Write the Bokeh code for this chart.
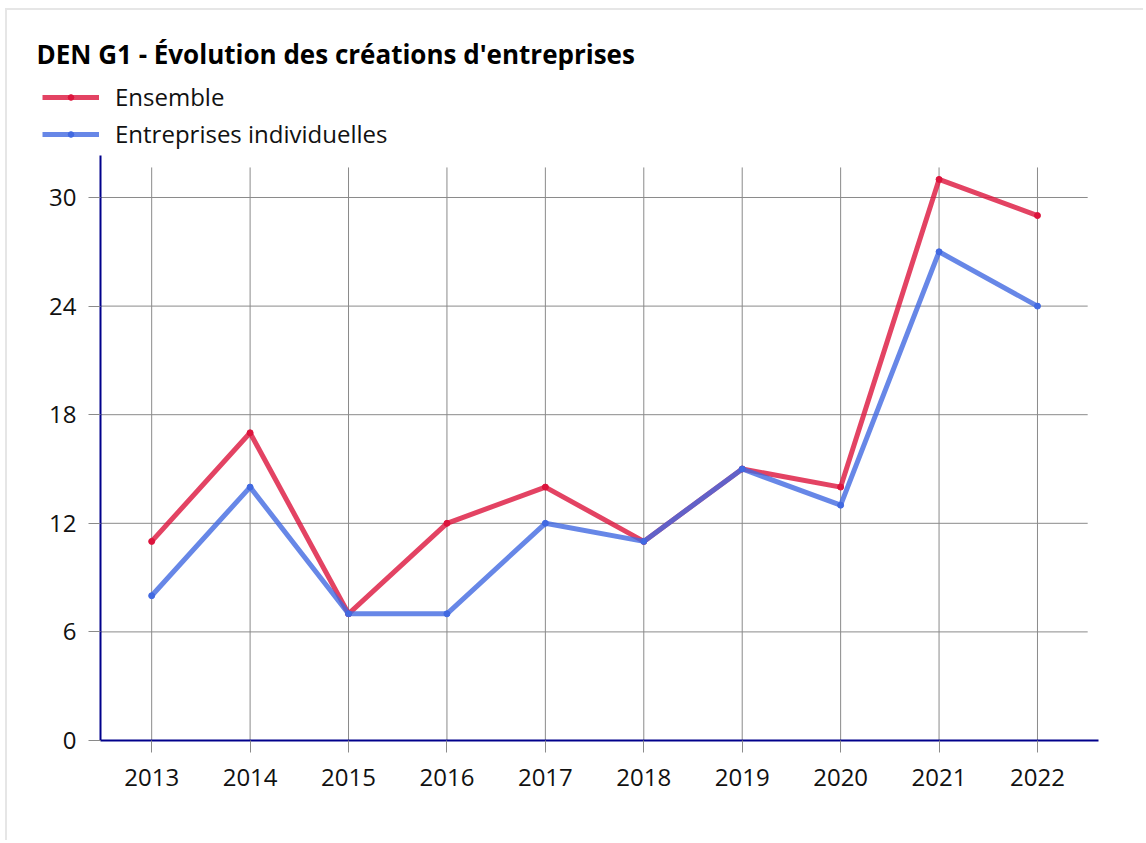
from bokeh.plotting import figure
from bokeh.models import FixedTicker, Legend, LegendItem, ColumnDataSource
from bokeh.layouts import column
from bokeh.embed import file_html
from bokeh.resources import INLINE

years = [2013, 2014, 2015, 2016, 2017, 2018, 2019, 2020, 2021, 2022]
ensemble = [11, 17, 7, 12, 14, 11, 15, 14, 31, 29]
individuelles = [8, 14, 7, 7, 12, 11, 15, 13, 27, 24]
y_ticks = [0, 6, 12, 18, 24, 30]
series_names = ["Ensemble", "Entreprises individuelles"]
title_text = "DEN G1 - Évolution des créations d'entreprises"

FONT = "Open Sans"
RED = "#DC143C"
BLUE = "#4169E1"
GRID = "#8a8a8a"
OX, OY = 7, 10          # content origin on the page (after margin + border)
W = 1136

src = ColumnDataSource(dict(x=years, e=ensemble, i=individuelles))

# ---------- header: title + legend ----------
top = figure(width=W, height=155 - OY, output_backend="svg", toolbar_location=None,
             x_range=(0, 1), y_range=(0, 1),
             x_axis_location=None, y_axis_location=None,
             min_border_left=0, min_border_right=0, min_border_bottom=0, min_border_top=72 - OY)
try:
    top.frame_align = False
except Exception:
    pass
top.outline_line_color = None
top.xgrid.visible = False
top.ygrid.visible = False
top.title.text = title_text
top.title.text_font = FONT
top.title.text_font_size = "26px"
top.title.text_font_style = "bold"
top.title.text_color = "#000000"
top.title.offset = 36 - OX
top.title.standoff = 2

tl1 = top.line("x", "e", source=src, line_color=RED, line_width=5, line_alpha=0.8)
ts1 = top.scatter("x", "e", source=src, size=5, fill_color=RED, line_color=RED)
tl2 = top.line("x", "i", source=src, line_color=BLUE, line_width=5, line_alpha=0.8)
ts2 = top.scatter("x", "i", source=src, size=5, fill_color=BLUE, line_color=BLUE)

legend = Legend(items=[LegendItem(label=series_names[0], renderers=[tl1, ts1]),
                       LegendItem(label=series_names[1], renderers=[tl2, ts2])],
                location=(42 - OX, 5), orientation="vertical",
                label_text_font=FONT, label_text_font_size="24px", label_text_color="#111111",
                glyph_width=57, glyph_height=14, label_height=30, spacing=4,
                label_standoff=16, padding=0, margin=0,
                border_line_color=None, background_fill_alpha=0)
top.add_layout(legend)

# ---------- chart ----------
x_lo, x_hi = 2012.48, 2022.62
y_lo, y_hi = 0, 32.32
grid_x_end = 2022.51
grid_y_end = 31.66

p = figure(width=W, height=685, output_backend="svg", toolbar_location=None,
           x_range=(x_lo, x_hi), y_range=(y_lo, y_hi),
           min_border_left=100 - OX, min_border_right=W - (1098 - OX), min_border_bottom=100,
           min_border_top=0)
try:
    p.frame_align = False
except Exception:
    pass
p.outline_line_color = None
p.xgrid.visible = False
p.ygrid.visible = False

p.segment(x0=[x_lo] * len(y_ticks[1:]), y0=y_ticks[1:], x1=[grid_x_end] * len(y_ticks[1:]), y1=y_ticks[1:],
          line_color=GRID, line_width=1)
p.segment(x0=years, y0=[0] * len(years), x1=years, y1=[grid_y_end] * len(years),
          line_color=GRID, line_width=1)

p.line("x", "e", source=src, line_color=RED, line_width=5, line_alpha=0.8)
p.scatter("x", "e", source=src, size=6, fill_color=RED, line_color=RED)
p.line("x", "i", source=src, line_color=BLUE, line_width=5, line_alpha=0.8)
p.scatter("x", "i", source=src, size=6, fill_color=BLUE, line_color=BLUE)

for ax in (p.xaxis[0], p.yaxis[0]):
    ax.axis_line_color = "#00008B"
    ax.axis_line_width = 2
    ax.major_tick_line_color = GRID
    ax.major_tick_out = 12
    ax.major_tick_in = 0
    ax.minor_tick_line_color = None
    ax.major_label_text_font = FONT
    ax.major_label_text_font_size = "24px"
    ax.major_label_text_color = "#111111"

p.xaxis.ticker = FixedTicker(ticks=years)
p.xaxis.major_label_standoff = 16
p.yaxis.ticker = FixedTicker(ticks=y_ticks)
p.yaxis.major_label_standoff = 12

layout = column(top, p, spacing=0,
                styles={"margin-left": "5px", "margin-top": "8px",
                        "border-left": "2px solid #e6e6e6", "border-top": "2px solid #e6e6e6"})
open("out.html", "w").write(file_html(layout, INLINE))
